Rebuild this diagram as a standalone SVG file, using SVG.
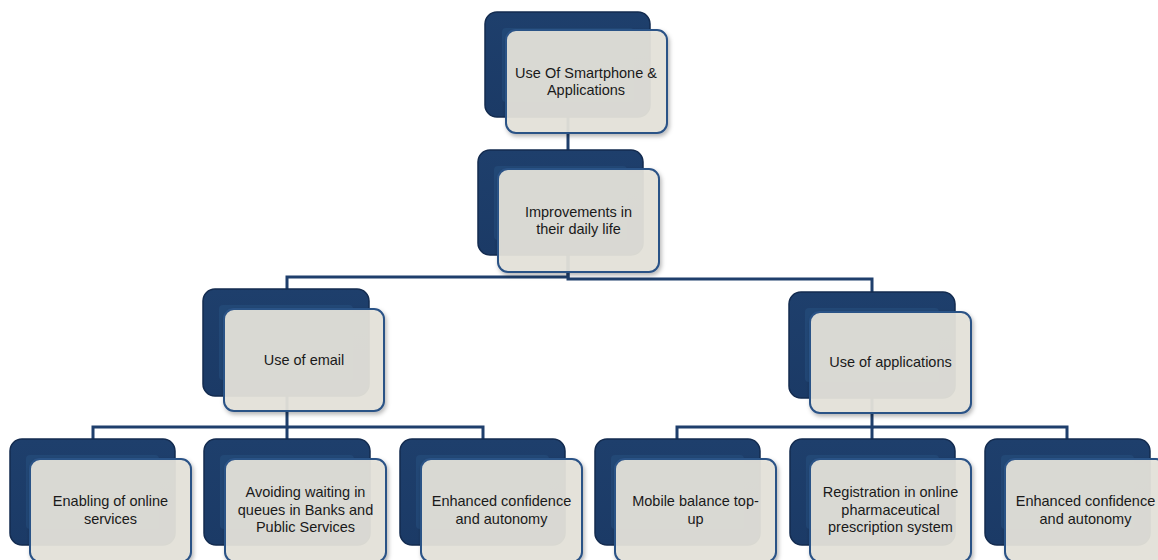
<svg xmlns="http://www.w3.org/2000/svg" width="1158" height="560" viewBox="0 0 1158 560">
  <defs>
    <filter id="shadow" x="-10%" y="-10%" width="125%" height="130%">
      <feDropShadow dx="1.5" dy="2.5" stdDeviation="2" flood-color="#000" flood-opacity="0.3"/>
    </filter>
    <linearGradient id="backFill" x1="0" y1="0" x2="0" y2="1">
      <stop offset="0" stop-color="#1e3f6c"/>
      <stop offset="1" stop-color="#1b3a66"/>
    </linearGradient>
  </defs>
  <style>
    .back { fill: url(#backFill); stroke: #132b4f; stroke-width: 1.5; }
    .inner { fill: #26507f; opacity: 0.55; }
    .front { fill: #e5e3da; fill-opacity: 0.93; stroke: #2b5286; stroke-width: 2; filter: url(#shadow); }
    .label { font-family: "Liberation Sans", Arial, sans-serif; font-size: 14.5px; fill: #1a1a1a; text-anchor: middle; }
    .conn { fill: none; stroke: #1f3f6c; stroke-width: 3; }
  </style>

  <rect width="1158" height="560" fill="#ffffff"/>

  <!-- hierarchy connectors -->
  <g id="connectors">
    <path class="conn" d="M568 117 V150"/>
    <path class="conn" d="M568 255 V277 H287 V289"/>
    <path class="conn" d="M568 255 V279 H872 V292"/>
    <path class="conn" d="M287 396 V427 H93 V439"/>
    <path class="conn" d="M287 427 V439"/>
    <path class="conn" d="M287 427 H483 V439"/>
    <path class="conn" d="M872 398 V427 H677 V439"/>
    <path class="conn" d="M872 427 V439"/>
    <path class="conn" d="M872 427 H1067 V439"/>
  </g>

  <!-- top node -->
  <g id="node-smartphone">
    <rect class="back" x="485" y="12" width="165" height="105" rx="12"/>
    <rect class="inner" x="502" y="28" width="132" height="74" rx="4"/>
    <rect class="front" x="506" y="30" width="161" height="103" rx="10"/>
    <text class="label" x="586" y="78">Use Of Smartphone &amp;</text>
    <text class="label" x="586" y="95">Applications</text>
  </g>

  <g id="node-improvements">
    <rect class="back" x="478" y="150" width="165" height="105" rx="12"/>
    <rect class="inner" x="494" y="166" width="133" height="74" rx="4"/>
    <rect class="front" x="498" y="169" width="161" height="103" rx="10"/>
    <text class="label" x="578.5" y="217">Improvements in</text>
    <text class="label" x="578.5" y="234">their daily life</text>
  </g>

  <g id="node-email">
    <rect class="back" x="203" y="289" width="166" height="107" rx="12"/>
    <rect class="inner" x="219" y="305" width="134" height="75" rx="4"/>
    <rect class="front" x="224" y="309" width="160" height="102" rx="10"/>
    <text class="label" x="304" y="365">Use of email</text>
  </g>

  <g id="node-applications">
    <rect class="back" x="789" y="292" width="166" height="106" rx="12"/>
    <rect class="inner" x="805" y="308" width="134" height="74" rx="4"/>
    <rect class="front" x="810" y="312" width="161" height="101" rx="10"/>
    <text class="label" x="890.5" y="367">Use of applications</text>
  </g>

  <!-- leaf nodes -->
  <g id="node-online-services">
    <rect class="back" x="10" y="439" width="165" height="106" rx="12"/>
    <rect class="inner" x="26" y="455" width="133" height="74" rx="4"/>
    <rect class="front" x="30" y="459" width="161" height="103" rx="10"/>
    <text class="label" x="110.5" y="506">Enabling of online</text>
    <text class="label" x="110.5" y="524">services</text>
  </g>

  <g id="node-queues">
    <rect class="back" x="204" y="439" width="166" height="106" rx="12"/>
    <rect class="inner" x="220" y="455" width="134" height="74" rx="4"/>
    <rect class="front" x="225" y="459" width="161" height="103" rx="10"/>
    <text class="label" x="305.5" y="497">Avoiding waiting in</text>
    <text class="label" x="305.5" y="515">queues in Banks and</text>
    <text class="label" x="305.5" y="532">Public Services</text>
  </g>

  <g id="node-confidence-email">
    <rect class="back" x="400" y="439" width="165" height="106" rx="12"/>
    <rect class="inner" x="416" y="455" width="133" height="74" rx="4"/>
    <rect class="front" x="421" y="459" width="161" height="103" rx="10"/>
    <text class="label" x="501.5" y="506">Enhanced confidence</text>
    <text class="label" x="501.5" y="524">and autonomy</text>
  </g>

  <g id="node-balance">
    <rect class="back" x="595" y="439" width="165" height="106" rx="12"/>
    <rect class="inner" x="611" y="455" width="133" height="74" rx="4"/>
    <rect class="front" x="615" y="459" width="161" height="103" rx="10"/>
    <text class="label" x="695.5" y="506">Mobile balance top-</text>
    <text class="label" x="695.5" y="524">up</text>
  </g>

  <g id="node-prescription">
    <rect class="back" x="790" y="439" width="165" height="106" rx="12"/>
    <rect class="inner" x="806" y="455" width="133" height="74" rx="4"/>
    <rect class="front" x="810" y="459" width="161" height="103" rx="10"/>
    <text class="label" x="890.5" y="497">Registration in online</text>
    <text class="label" x="890.5" y="515">pharmaceutical</text>
    <text class="label" x="890.5" y="532">prescription system</text>
  </g>

  <g id="node-confidence-apps">
    <rect class="back" x="985" y="439" width="165" height="106" rx="12"/>
    <rect class="inner" x="1001" y="455" width="133" height="74" rx="4"/>
    <rect class="front" x="1005" y="459" width="161" height="103" rx="10"/>
    <text class="label" x="1085.5" y="506">Enhanced confidence</text>
    <text class="label" x="1085.5" y="524">and autonomy</text>
  </g>
</svg>
